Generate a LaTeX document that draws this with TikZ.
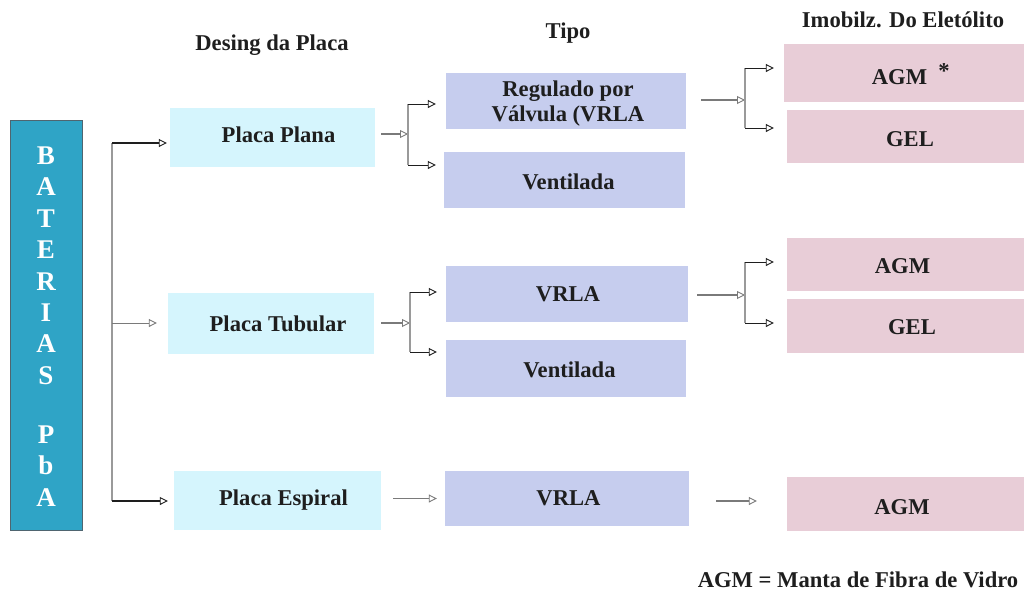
\documentclass[tikz,border=0pt]{standalone}
\usepackage{fontspec}
\setmainfont{Liberation Serif}
\usetikzlibrary{arrows.meta}
\definecolor{ink}{HTML}{1E1E1E}
\definecolor{batfill}{HTML}{2FA4C6}
\definecolor{batedge}{HTML}{4F6570}
\definecolor{plateclr}{HTML}{D5F5FD}
\definecolor{typeclr}{HTML}{C6CDEE}
\definecolor{electclr}{HTML}{E8CDD7}
\definecolor{trunkclr}{HTML}{9A9A9A}
\definecolor{feedclr}{HTML}{7A7A7A}
% shift text right by #1 pt and down by #2 pt, keeping its box for centring
\newcommand{\placed}[3]{\raisebox{-#2pt}[\height][\depth]{\hspace*{#1pt}#3\hspace*{-#1pt}}}
\newcommand{\stacked}[1]{\begin{tabular}{@{}c@{}}#1\end{tabular}}
\begin{document}
\begin{tikzpicture}[x=1pt,y=-1pt,
  font=\fontsize{22.6}{25}\selectfont\bfseries,
  text=ink,
  cell/.style={inner sep=0pt, align=center},
  plate/.style={cell, fill=plateclr},
  kind/.style={cell, fill=typeclr},
  elect/.style={cell, fill=electclr},
  heading/.style={inner sep=0pt},
  tip/.style={-{Triangle[open, length=8pt, width=8pt, line width=0.9pt, fill=white]}},
  trunk/.style={draw=trunkclr, line width=1.3pt},
  feed/.style={tip, draw=feedclr, line width=1.4pt},
  leg/.style={tip, draw=ink, line width=1pt},
  boldleg/.style={tip, draw=ink, line width=2.4pt},
  thinleg/.style={tip, draw=feedclr, line width=1pt}]
\useasboundingbox (0,0) rectangle (1024,595);

% left column: battery family
\node[cell, fill=batfill, draw=batedge, line width=1pt,
      minimum width=72pt, minimum height=410pt, text=white,
      font=\fontsize{27}{31.4}\selectfont\bfseries] (bat) at (46,325)
  {\placed{0}{4}{\stacked{B\\A\\T\\E\\R\\I\\A\\S\\[27.6pt]P\\b\\A}}};

% column headings
\node[heading] (h1) at (272,45) {Desing da Placa};
\node[heading] (h2) at (568,33) {Tipo};
\node[heading] (h3) at (903,20) {Imobilz. Do Eletólito};

% plate design
\node[plate, minimum width=205pt, minimum height=59pt] (plana) at (272.5,137.5) {\placed{6}{-3}{Placa Plana}};
\node[plate, minimum width=206pt, minimum height=61pt] (tubular) at (271,323.5) {\placed{7}{0}{Placa Tubular}};
\node[plate, minimum width=207pt, minimum height=59pt] (espiral) at (277.5,500.5) {\placed{6}{0}{Placa Espiral}};

% battery type
\node[kind, minimum width=240pt, minimum height=56pt] (reg) at (566,101) {\placed{2}{3}{\stacked{Regulado por\\Válvula (VRLA}}};
\node[kind, minimum width=241pt, minimum height=56pt] (vent1) at (564.5,180) {\placed{4}{2}{Ventilada}};
\node[kind, minimum width=242pt, minimum height=56pt] (vrla1) at (567,294) {\placed{1}{0}{VRLA}};
\node[kind, minimum width=240pt, minimum height=57pt] (vent2) at (566,368.5) {\placed{3.5}{1}{Ventilada}};
\node[kind, minimum width=244pt, minimum height=55pt] (vrla2) at (567,498.5) {\placed{1.5}{0}{VRLA}};

% electrolyte immobilisation
\node[elect, minimum width=240pt, minimum height=58pt] (agm1) at (904,73) {\placed{-4.5}{4}{AGM}};
\node[inner sep=0pt] (ast) at (944,71) {*};
\node[elect, minimum width=237pt, minimum height=53pt] (gel1) at (905.5,136.5) {\placed{4.5}{3}{GEL}};
\node[elect, minimum width=237pt, minimum height=53pt] (agm2) at (905.5,264.5) {\placed{-3}{2}{AGM}};
\node[elect, minimum width=237pt, minimum height=54pt] (gel2) at (905.5,326) {\placed{6.5}{1}{GEL}};
\node[elect, minimum width=237pt, minimum height=54pt] (agm3) at (905.5,504) {\placed{-3.5}{3}{AGM}};

% footnote
\node[heading] (note) at (858,580) {AGM = Manta de Fibra de Vidro};

% branch points
\coordinate (tA) at (112,143);
\coordinate (tB) at (112,323);
\coordinate (tC) at (112,501);
\coordinate (pA) at (408,134);
\coordinate (pA1) at (408,104);
\coordinate (pA2) at (408,165);
\coordinate (pB) at (410,323);
\coordinate (pB1) at (410,292);
\coordinate (pB2) at (410,352);
\coordinate (qA) at (745,100);
\coordinate (qA1) at (745,68);
\coordinate (qA2) at (745,128);
\coordinate (qB) at (745,295);
\coordinate (qB1) at (745,262);
\coordinate (qB2) at (745,323);

% battery -> plate design
\draw[trunk] (tA) -- (tC);
\draw[boldleg] (tA) -- ([xshift=-3pt]plana.west |- tA);
\draw[thinleg] (tB) -- ([xshift=-11pt]tubular.west |- tB);
\draw[boldleg] (tC) -- ([xshift=-6pt]espiral.west |- tC);

% plate design -> type
\draw[feed] ([xshift=6pt]plana.east |- pA) -- (pA);
\draw[trunk] (pA1) -- (pA2);
\draw[leg] (pA1) -- ([xshift=-10pt]reg.west |- pA1);
\draw[leg] (pA2) -- ([xshift=-8pt]vent1.west |- pA2);

\draw[feed] ([xshift=7pt]tubular.east |- pB) -- (pB);
\draw[trunk] (pB1) -- (pB2);
\draw[leg] (pB1) -- ([xshift=-9pt]vrla1.west |- pB1);
\draw[leg] (pB2) -- ([xshift=-9pt]vent2.west |- pB2);

\draw[feed] ([xshift=12pt]espiral.east |- vrla2.west) -- ([xshift=-8pt]vrla2.west);

% type -> electrolyte immobilisation
\draw[feed] ([xshift=15pt]reg.east |- qA) -- (qA);
\draw[trunk] (qA1) -- (qA2);
\draw[leg] (qA1) -- ([xshift=-10pt]agm1.west |- qA1);
\draw[leg] (qA2) -- ([xshift=-13pt]gel1.west |- qA2);

\draw[feed] ([xshift=9pt]vrla1.east |- qB) -- (qB);
\draw[trunk] (qB1) -- (qB2);
\draw[leg] (qB1) -- ([xshift=-13pt]agm2.west |- qB1);
\draw[leg] (qB2) -- ([xshift=-13pt]gel2.west |- qB2);

\draw[feed] ([xshift=27pt]vrla2.east |- tC) -- ([xshift=-30pt]agm3.west |- tC);
\end{tikzpicture}
\end{document}
